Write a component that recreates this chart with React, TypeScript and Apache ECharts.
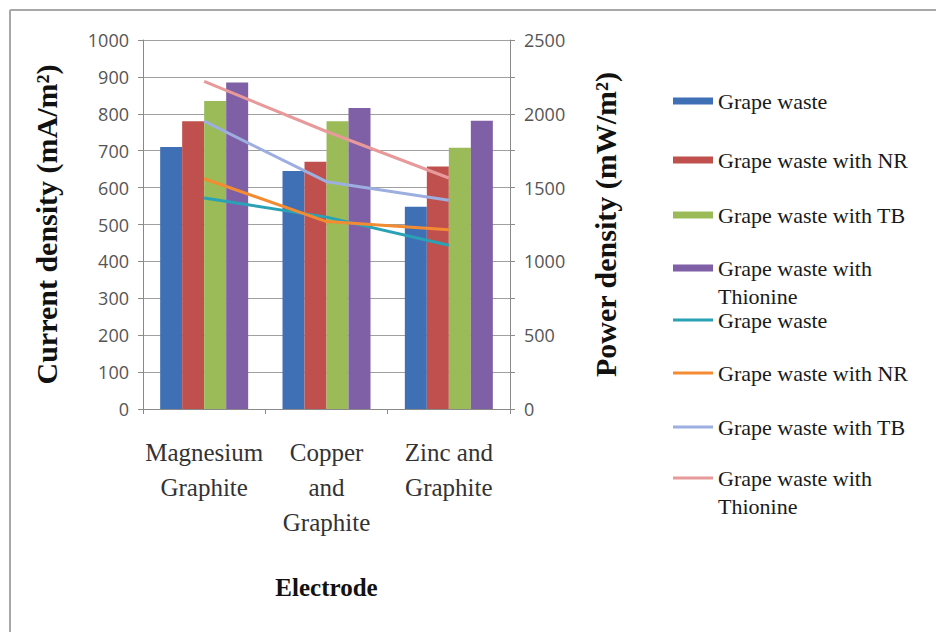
import React, { useEffect, useRef } from "react";
import * as echarts from "echarts";

const categories = ["Magnesium\nGraphite", "Copper\nand\nGraphite", "Zinc and\nGraphite"];

const barNames = ["Grape waste", "Grape waste with NR", "Grape waste with TB", "Grape waste with Thionine"];
const currentGrape = [710, 645, 548];
const currentNR = [780, 670, 657];
const currentTB = [835, 780, 708];
const currentThionine = [885, 816, 781];

const powerGrape = [1430, 1300, 1110];
const powerNR = [1560, 1270, 1215];
const powerTB = [1950, 1540, 1415];
const powerThionine = [2220, 1880, 1565];

const leftTicks = [0, 100, 200, 300, 400, 500, 600, 700, 800, 900, 1000];
const rightTicks = [0, 500, 1000, 1500, 2000, 2500];

const barColors = ["#3f70b6", "#c0504d", "#9bbb59", "#7f5fa6"];
const lineColors = ["#2aa2b6", "#f38b32", "#9cafe0", "#e89a9a"];
const PD = " (PD)";

export default function App() {
  const ref = useRef<HTMLDivElement>(null);
  useEffect(() => {
    document.body.style.margin = "0";
    if (!ref.current) return;
    const chart = echarts.init(ref.current, null, { renderer: "svg" });
    const barData = [currentGrape, currentNR, currentTB, currentThionine];
    const lineData = [powerGrape, powerNR, powerTB, powerThionine];
    const lineNames = barNames.map((n) => n + PD);

    const fmt = (name: string) => {
      const n = name.replace(PD, "");
      return n === "Grape waste with Thionine" ? "\nGrape waste with\nThionine" : n;
    };

    const legendCenters = [101, 160, 215, 268, 320, 373, 427, 478];
    const allNames = [...barNames, ...lineNames];
    const legends = allNames.map((name, i) => {
      const two = name.indexOf("Thionine") >= 0;
      const isLine = i >= 4;
      return {
        data: [name],
        orient: "vertical",
        left: 673,
        top: legendCenters[i] - (two ? 42 : 14),
        padding: 0,
        itemWidth: 40,
        itemHeight: isLine ? 3 : 7,
        icon: "rect",
        selectedMode: false,
        formatter: fmt,
        textStyle: {
          fontFamily: "Liberation Serif",
          fontSize: 22,
          color: "#1a1a1a",
          lineHeight: 28,
        },
      };
    });

    const series: any[] = [];
    barNames.forEach((n, i) => {
      series.push({
        name: n,
        type: "bar",
        yAxisIndex: 0,
        data: barData[i],
        barWidth: 22,
        barGap: "0%",
        itemStyle: { color: barColors[i] },
      });
    });
    lineNames.forEach((n, i) => {
      series.push({
        name: n,
        type: "line",
        yAxisIndex: 1,
        data: lineData[i],
        symbol: "none",
        z: 5,
        lineStyle: { color: lineColors[i], width: 3 },
        itemStyle: { color: lineColors[i] },
      });
    });

    chart.setOption({
      animation: false,
      backgroundColor: "#ffffff",
      legend: legends,
      grid: { left: 143, right: 426, top: 40, bottom: 223 },
      xAxis: {
        type: "category",
        data: categories,
        boundaryGap: true,
        axisLine: { lineStyle: { color: "#8a8a8a", width: 1 } },
        axisTick: { show: true, length: 5, lineStyle: { color: "#8a8a8a" } },
        axisLabel: {
          interval: 0,
          margin: 26,
          fontFamily: "Liberation Serif",
          fontSize: 25,
          lineHeight: 35,
          color: "#333",
        },
        name: "Electrode",
        nameLocation: "middle",
        nameGap: 166,
        nameTextStyle: {
          fontFamily: "Liberation Serif",
          fontWeight: "bold",
          fontSize: 25,
          color: "#111",
          verticalAlign: "top",
          lineHeight: 25,
        },
      },
      yAxis: [
        {
          type: "value",
          min: 0,
          max: 1000,
          interval: 100,
          axisLine: { show: true, lineStyle: { color: "#8a8a8a" } },
          axisTick: { show: true, length: 5, lineStyle: { color: "#8a8a8a" } },
          splitLine: { show: true, lineStyle: { color: "#a0a0a0", width: 1 } },
          axisLabel: {
            margin: 14,
            fontFamily: "Open Sans",
            fontSize: 18,
            color: "#555",
            formatter: (v: number) => (leftTicks.indexOf(v) >= 0 ? String(v) : ""),
          },
          name: "Current density (mA/m²)",
          nameLocation: "middle",
          nameRotate: 90,
          nameGap: 82,
          nameTextStyle: {
            fontFamily: "Liberation Serif",
            fontWeight: "bold",
            fontSize: 30,
            color: "#111",
          },
        },
        {
          type: "value",
          min: 0,
          max: 2500,
          interval: 250,
          position: "right",
          axisLine: { show: true, lineStyle: { color: "#8a8a8a" } },
          axisTick: { show: true, length: 5, lineStyle: { color: "#8a8a8a" } },
          splitLine: { show: false },
          axisLabel: {
            margin: 14,
            fontFamily: "Open Sans",
            fontSize: 18,
            color: "#555",
            formatter: (v: number) => (rightTicks.indexOf(v) >= 0 ? String(v) : ""),
          },
          name: "Power density (mW/m²)",
          nameLocation: "middle",
          nameRotate: 90,
          nameGap: 80,
          nameTextStyle: {
            fontFamily: "Liberation Serif",
            fontWeight: "bold",
            fontSize: 30,
            color: "#111",
          },
        },
      ],
      graphic: [
        { type: "line", shape: { x1: 10, y1: 10, x2: 936, y2: 10 }, style: { stroke: "#a8a8a8", lineWidth: 2 } },
        { type: "line", shape: { x1: 10, y1: 10, x2: 10, y2: 632 }, style: { stroke: "#a8a8a8", lineWidth: 2 } },
      ],
      series,
    });
    return () => chart.dispose();
  }, []);
  return <div ref={ref} style={{ width: 936, height: 632 }} />;
}
